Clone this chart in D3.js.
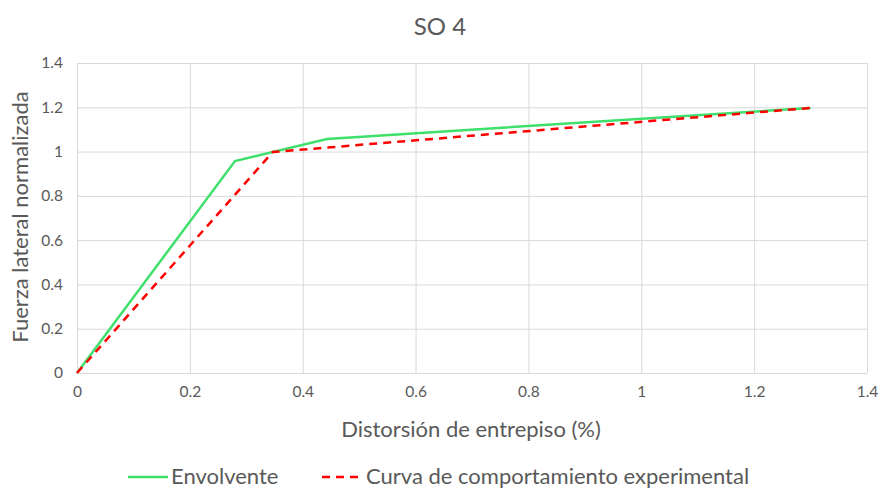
<!DOCTYPE html>
<meta charset="utf-8">
<script src="https://d3js.org/d3.v7.min.js"></script>
<style>
body { margin: 0; background: #fff; }
text { font-family: Lato, "Open Sans", sans-serif; fill: #595959; }
.grid line { stroke: #d9d9d9; stroke-width: 1; }
.grid path { display: none; }
.axis path, .axis line { display: none; }
.axis text { font-size: 15.5px; }
</style>
<body>
<script>
// series
const envX = [0, 0.28, 0.443, 1.3];
const envY = [0, 0.957, 1.057, 1.197];
const expX = [0, 0.347, 1.3];
const expY = [0, 0.998, 1.197];
const seriesNames = ["Envolvente", "Curva de comportamiento experimental"];
const xTicks = [0, 0.2, 0.4, 0.6, 0.8, 1, 1.2, 1.4];
const yTicks = [0, 0.2, 0.4, 0.6, 0.8, 1, 1.2, 1.4];

const width = 880, height = 489;
const margin = {left: 77, right: 13, top: 63, bottom: 116};

const svg = d3.select("body").append("svg")
  .attr("width", width).attr("height", height);

const x = d3.scaleLinear().domain([0, 1.4]).range([margin.left, width - margin.right]);
const y = d3.scaleLinear().domain([0, 1.4]).range([height - margin.bottom, margin.top]);

// gridlines
svg.append("g").attr("class", "grid")
  .attr("transform", `translate(0,${height - margin.bottom})`)
  .call(d3.axisBottom(x).tickValues(xTicks).tickSize(-(height - margin.top - margin.bottom)).tickFormat(""));
svg.append("g").attr("class", "grid")
  .attr("transform", `translate(${margin.left},0)`)
  .call(d3.axisLeft(y).tickValues(yTicks).tickSize(-(width - margin.left - margin.right)).tickFormat(""));

// axis labels
svg.append("g").attr("class", "axis")
  .attr("transform", `translate(0,${height - margin.bottom + 10})`)
  .call(d3.axisBottom(x).tickValues(xTicks).tickFormat(d3.format("")).tickSize(0));
svg.append("g").attr("class", "axis")
  .attr("transform", `translate(${margin.left - 11},0)`)
  .call(d3.axisLeft(y).tickValues(yTicks).tickFormat(d3.format("")).tickSize(0));

// lines
const line = d3.line().x(d => x(d[0])).y(d => y(d[1]));
svg.append("path")
  .datum(d3.zip(envX, envY))
  .attr("d", line)
  .attr("fill", "none").attr("stroke", "#3ee06b").attr("stroke-width", 2.5);
svg.append("path")
  .datum(d3.zip(expX, expY))
  .attr("d", line)
  .attr("fill", "none").attr("stroke", "#ff0000").attr("stroke-width", 2.5)
  .attr("stroke-dasharray", "8,6");

// title
svg.append("text").attr("x", 440).attr("y", 35)
  .attr("text-anchor", "middle").style("font-size", "24px").text("SO 4");

// axis titles
svg.append("text").attr("x", 471).attr("y", 437)
  .attr("text-anchor", "middle").style("font-size", "22px").text("Distorsión de entrepiso (%)");
svg.append("text").attr("transform", `translate(28,217) rotate(-90)`)
  .attr("text-anchor", "middle").style("font-size", "22px").text("Fuerza lateral normalizada");

// legend
const legend = svg.append("g");
legend.append("line").attr("x1", 128).attr("x2", 168).attr("y1", 477).attr("y2", 477)
  .attr("stroke", "#3ee06b").attr("stroke-width", 2.5);
legend.append("text").attr("x", 171).attr("y", 484).style("font-size", "22px").text(seriesNames[0]);
legend.append("line").attr("x1", 322).attr("x2", 362).attr("y1", 477).attr("y2", 477)
  .attr("stroke", "#ff0000").attr("stroke-width", 2.5).attr("stroke-dasharray", "8,6");
legend.append("text").attr("x", 366).attr("y", 484).style("font-size", "22px").text(seriesNames[1]);
</script>
</body>
